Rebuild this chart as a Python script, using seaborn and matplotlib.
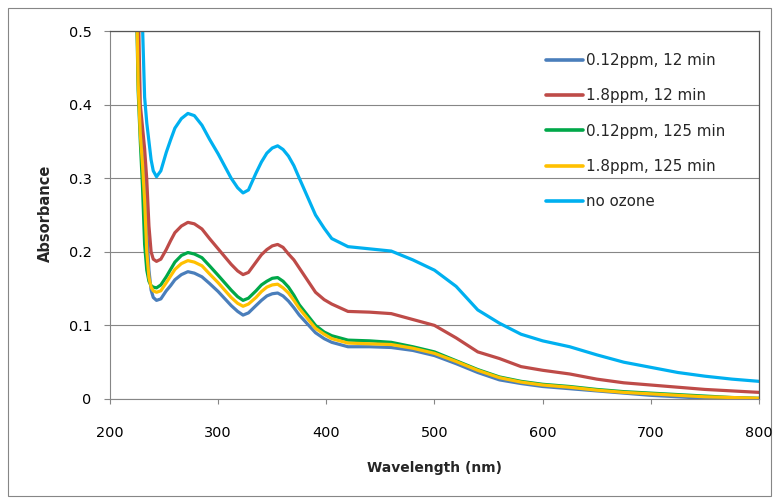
import numpy as np
import pandas as pd
import matplotlib
matplotlib.use("Agg")
import matplotlib.pyplot as plt
from matplotlib.patches import Rectangle
import seaborn as sns

wavelength = [224, 226, 228, 230, 232, 234, 236, 238, 240,
              243, 247, 252, 256, 260,
              266, 272, 278, 285, 292,
              300, 312, 318, 323, 328,
              335, 340, 345, 350, 355,
              360, 365, 370, 375, 390,
              398, 405, 420, 440, 460,
              480, 500, 520, 540, 560,
              580, 600, 625, 650, 675,
              700, 725, 750, 775, 800]

blue_012_12 = [0.60, 0.44, 0.37, 0.33, 0.30, 0.23, 0.175, 0.148, 0.138,
               0.134, 0.136, 0.147, 0.154, 0.162,
               0.169, 0.173, 0.171, 0.166, 0.157,
               0.146, 0.127, 0.119, 0.114, 0.117,
               0.127, 0.134, 0.140, 0.143, 0.144,
               0.140, 0.133, 0.124, 0.114, 0.090,
               0.082, 0.077, 0.071, 0.071, 0.070,
               0.066, 0.059, 0.048, 0.036, 0.026,
               0.021, 0.017, 0.014, 0.011, 0.008,
               0.005, 0.003, 0.001, 0.000, -0.001]
red_18_12 = [0.70, 0.55, 0.40, 0.37, 0.34, 0.298, 0.235, 0.200, 0.190,
             0.187, 0.190, 0.203, 0.215, 0.226,
             0.235, 0.240, 0.238, 0.231, 0.218,
             0.204, 0.183, 0.174, 0.169, 0.172,
             0.186, 0.196, 0.203, 0.208, 0.210,
             0.206, 0.197, 0.189, 0.178, 0.145,
             0.135, 0.129, 0.119, 0.118, 0.116,
             0.108, 0.100, 0.083, 0.064, 0.055,
             0.044, 0.039, 0.034, 0.027, 0.022,
             0.019, 0.016, 0.013, 0.011, 0.009]
green_012_125 = [0.58, 0.42, 0.35, 0.29, 0.21, 0.175, 0.160, 0.154, 0.152,
                 0.151, 0.155, 0.166, 0.176, 0.186,
                 0.195, 0.199, 0.197, 0.192, 0.181,
                 0.168, 0.148, 0.139, 0.134, 0.137,
                 0.147, 0.155, 0.160, 0.164, 0.165,
                 0.160, 0.152, 0.141, 0.128, 0.100,
                 0.091, 0.086, 0.080, 0.079, 0.077,
                 0.071, 0.064, 0.052, 0.040, 0.030,
                 0.024, 0.020, 0.017, 0.013, 0.010,
                 0.008, 0.006, 0.004, 0.002, 0.001]
yellow_18_125 = [0.60, 0.43, 0.36, 0.32, 0.27, 0.20, 0.165, 0.152, 0.147,
                 0.145, 0.147, 0.158, 0.167, 0.176,
                 0.184, 0.188, 0.186, 0.181, 0.170,
                 0.158, 0.138, 0.130, 0.126, 0.129,
                 0.138, 0.146, 0.152, 0.155, 0.156,
                 0.151, 0.144, 0.134, 0.123, 0.096,
                 0.088, 0.082, 0.076, 0.075, 0.074,
                 0.069, 0.062, 0.051, 0.039, 0.029,
                 0.023, 0.019, 0.016, 0.012, 0.009,
                 0.007, 0.005, 0.003, 0.002, 0.001]
cyan_no_ozone = [1.00, 0.80, 0.60, 0.51, 0.41, 0.375, 0.350, 0.325, 0.310,
                 0.302, 0.310, 0.335, 0.352, 0.368,
                 0.381, 0.388, 0.385, 0.372, 0.353,
                 0.333, 0.300, 0.287, 0.280, 0.284,
                 0.307, 0.322, 0.334, 0.341, 0.344,
                 0.339, 0.330, 0.317, 0.300, 0.250,
                 0.232, 0.218, 0.207, 0.204, 0.201,
                 0.189, 0.175, 0.153, 0.121, 0.103,
                 0.088, 0.079, 0.071, 0.060, 0.050,
                 0.043, 0.036, 0.031, 0.027, 0.024]

series_names = ["0.12ppm, 12 min", "1.8ppm, 12 min", "0.12ppm, 125 min", "1.8ppm, 125 min", "no ozone"]
series_values = [blue_012_12, red_18_12, green_012_125, yellow_18_125, cyan_no_ozone]
colors = ["#4A7EBB", "#BE4B48", "#00A849", "#FFC000", "#00B0F0"]

x_ticks = [200, 300, 400, 500, 600, 700, 800]
y_ticks = [0, 0.1, 0.2, 0.3, 0.4, 0.5]
y_tick_labels = ["0", "0.1", "0.2", "0.3", "0.4", "0.5"]

rows = []
for name, vals in zip(series_names, series_values):
    for w, v in zip(wavelength, vals):
        rows.append({"Wavelength": w, "Absorbance": v, "Series": name})
df = pd.DataFrame(rows)

sns.set_style("white")
plt.rcParams["font.family"] = ["DejaVu Sans"]

W, H = 778, 499
fig = plt.figure(figsize=(W / 100, H / 100), dpi=100)
L, R, T, B = 110, 759, 31, 399
ax = fig.add_axes([L / W, 1 - B / H, (R - L) / W, (B - T) / H])

sns.lineplot(data=df, x="Wavelength", y="Absorbance", hue="Series", hue_order=series_names,
             palette=colors, sort=False, estimator=None, linewidth=2.3, ax=ax, legend=True)

ax.set_xlim(200, 800)
ax.set_ylim(0, 0.5)
ax.set_xticks(x_ticks)
ax.set_xticklabels([str(t) for t in x_ticks])
ax.set_yticks(y_ticks)
ax.set_yticklabels(y_tick_labels)

ax.yaxis.grid(True, color="#868686", linewidth=0.8)
ax.xaxis.grid(False)
ax.set_axisbelow(True)

for s in ["left", "bottom"]:
    ax.spines[s].set_color("#868686")
    ax.spines[s].set_linewidth(0.8)
for s in ["top", "right"]:
    ax.spines[s].set_color("#555555")
    ax.spines[s].set_linewidth(0.9)

ax.tick_params(axis="y", which="major", direction="out", length=4.3, width=0.8, color="#868686",
               pad=9, labelsize=10.4, labelcolor="black", left=True)
ax.tick_params(axis="x", which="major", direction="out", length=3.6, width=0.8, color="#868686",
               pad=15.5, labelsize=10.4, labelcolor="black", bottom=True)

ax.set_xlabel("Wavelength (nm)", fontsize=10, fontweight="bold")
ax.set_ylabel("Absorbance", fontsize=10.5, fontweight="bold")
ax.xaxis.label.set_va("center")
ax.yaxis.label.set_va("center")
ax.xaxis.set_label_coords(0.5, -(468 - B) / (B - T))
ax.yaxis.set_label_coords((45 - L) / (R - L), (B - 213) / (B - T))

leg = ax.legend(loc="upper left", bbox_to_anchor=(546 / W, 1 - 53 / H), bbox_transform=fig.transFigure,
                frameon=False, fontsize=10.9, handlelength=2.45, handletextpad=0.2,
                labelspacing=1.34, borderpad=0, borderaxespad=0)
for line in leg.get_lines():
    line.set_linewidth(2.6)

fig.patches.append(Rectangle((8 / W, 1 - 496 / H), (771 - 8) / W, (496 - 8) / H,
                             transform=fig.transFigure, fill=False, edgecolor="#868686",
                             linewidth=0.8, zorder=-1))

fig.savefig("out.png", dpi=100)
